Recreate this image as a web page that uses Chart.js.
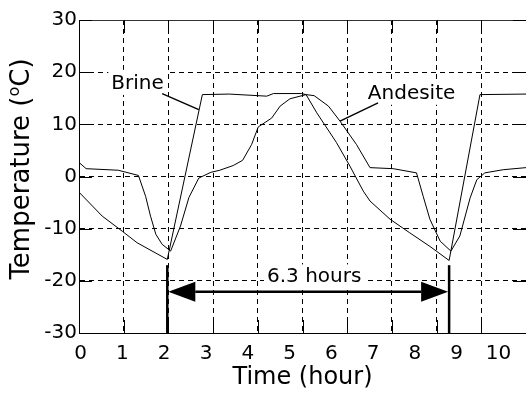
<!DOCTYPE html>
<html>
<head>
<meta charset="utf-8">
<script src="https://cdn.jsdelivr.net/npm/chart.js@4.4.1/dist/chart.umd.min.js"></script>
<style>
  html, body { margin: 0; padding: 0; background: #fff; }
  #wrap { width: 526px; height: 393px; }
</style>
</head>
<body>
<div id="wrap"><canvas id="chart"></canvas></div>
<script>
// data (time in hours, temperature in degC)
const brineHours = [0, 0.52, 0.97, 1.30, 1.975, 2.76, 3.36, 4.20, 4.35, 4.98, 5.08, 5.32, 5.76, 6.06, 6.36, 6.51, 6.96, 7.40, 7.85, 8.28, 8.97, 10.0];
const brineTemp  = [-3.0, -7.6, -10.5, -12.7, -15.9, 15.7, 15.8, 15.4, 15.9, 15.9, 15.7, 12.2, 6.5, 2.0, -2.8, -4.7, -8.2, -10.8, -13.4, -16.1, 15.7, 15.8];

const andesiteHours = [0, 0.16, 0.88, 1.33, 1.49, 1.60, 1.72, 1.86, 2.05, 2.27, 2.46, 2.68, 2.95, 3.15, 3.45, 3.66, 3.86, 4.01, 4.31, 4.50, 4.72, 5.08, 5.26, 5.58, 5.84, 6.21, 6.51, 7.03, 7.55, 7.70, 7.85, 8.08, 8.32, 8.52, 8.75, 8.90, 9.08, 9.49, 10.0];
const andesiteTemp  = [2.7, 1.5, 1.2, 0.2, -3.8, -7.6, -11.1, -13.0, -14.3, -9.5, -4.0, -0.3, 0.8, 1.2, 2.1, 3.1, 6.1, 9.5, 11.2, 13.5, 14.9, 15.7, 15.5, 13.5, 10.6, 6.1, 1.7, 1.5, 0.7, -3.8, -8.2, -12.4, -14.3, -11.4, -4.1, -0.6, 0.7, 1.3, 1.7];

const gridHours = [0, 1, 2, 3, 4, 5, 6, 7, 8, 9, 10];
const hourLabels = [0, 1, 2, 3, 4, 5, 6, 7, 8, 9, 10];
const tempTicks = [-30, -20, -10, 0, 10, 20, 30];

// annotations (data units)
const cycleStart = 1.975, cycleEnd = 8.28, arrowTemp = -22.1, markerTop = -17.0;
const cycleText = '6.3 hours';
const seriesNotes = [
  { text: 'Brine', x: 1.31, y: 16.8, from: [1.86, 15.9], to: [2.68, 12.8] },
  { text: 'Andesite', x: 7.44, y: 14.9, from: [6.69, 14.1], to: [5.84, 10.6] }
];

const FONT = '"DejaVu Sans", "Liberation Sans", Arial, sans-serif';

function toPoints(xs, ys) {
  return xs.map((v, i) => ({ x: v, y: ys[i] }));
}

function seg(ctx, x1, y1, x2, y2) {
  ctx.beginPath();
  ctx.moveTo(x1, y1);
  ctx.lineTo(x2, y2);
  ctx.stroke();
}

const figureDecor = {
  id: 'figureDecor',
  afterDatasetsDraw(chart) {
    const { ctx, chartArea: a, scales: { x, y } } = chart;
    ctx.save();
    ctx.setLineDash([]);
    ctx.strokeStyle = '#000';
    ctx.fillStyle = '#000';

    // top frame line
    ctx.lineWidth = 1;
    ctx.strokeStyle = '#333';
    seg(ctx, a.left, Math.round(a.top) + 0.5, a.right, Math.round(a.top) + 0.5);
    ctx.strokeStyle = '#000';

    // inward tick marks on all four sides
    gridHours.forEach(v => {
      const px = Math.round(x.getPixelForValue(v)) + 0.5;
      seg(ctx, px, a.bottom, px, a.bottom - 13);
      seg(ctx, px, a.top, px, a.top + 13);
    });
    tempTicks.forEach(v => {
      const py = Math.round(y.getPixelForValue(v)) + 0.5;
      seg(ctx, a.left, py, a.left + 13, py);
      seg(ctx, a.right - 13, py, a.right, py);
    });

    // series labels with pointer lines
    ctx.font = '20px ' + FONT;
    ctx.textAlign = 'center';
    ctx.textBaseline = 'alphabetic';
    seriesNotes.forEach(n => {
      const cx = x.getPixelForValue(n.x), by = y.getPixelForValue(n.y);
      const w = ctx.measureText(n.text).width;
      ctx.fillStyle = '#fff';
      ctx.fillRect(cx - w / 2 - 3, by - 19, w + 6, 25);
      ctx.fillStyle = '#000';
      ctx.fillText(n.text, cx, by);
      ctx.lineWidth = 1.4;
      seg(ctx, x.getPixelForValue(n.from[0]), y.getPixelForValue(n.from[1]),
               x.getPixelForValue(n.to[0]), y.getPixelForValue(n.to[1]));
    });

    // cycle period markers and double arrow
    const x1 = x.getPixelForValue(cycleStart), x2 = x.getPixelForValue(cycleEnd);
    const ay = y.getPixelForValue(arrowTemp);
    ctx.lineWidth = 2.5;
    [x1, x2].forEach(px => seg(ctx, px, y.getPixelForValue(markerTop), px, a.bottom));
    const head = 28, half = 10;
    seg(ctx, x1 + head, ay, x2 - head, ay);
    ctx.beginPath();
    ctx.moveTo(x1 + 1, ay); ctx.lineTo(x1 + head, ay - half); ctx.lineTo(x1 + head, ay + half); ctx.closePath();
    ctx.fill();
    ctx.beginPath();
    ctx.moveTo(x2 - 1, ay); ctx.lineTo(x2 - head, ay - half); ctx.lineTo(x2 - head, ay + half); ctx.closePath();
    ctx.fill();

    const tx = (x1 + x2) / 2 + 6, ty = y.getPixelForValue(-20.3);
    const tw = ctx.measureText(cycleText).width;
    ctx.fillStyle = '#fff';
    ctx.fillRect(tx - tw / 2 - 3, ty - 18, tw + 6, 22);
    ctx.fillStyle = '#000';
    ctx.fillText(cycleText, tx, ty);
    ctx.restore();
  },
  afterDraw(chart) {
    // y axis title with superscript "o"
    const { ctx } = chart;
    const size = 26, supSize = 16;
    ctx.save();
    ctx.translate(29, 169);
    ctx.rotate(-Math.PI / 2);
    ctx.fillStyle = '#000';
    ctx.textBaseline = 'alphabetic';
    ctx.textAlign = 'left';
    const main = 'Temperature (', tail = 'C)';
    ctx.font = size + 'px ' + FONT;
    const w1 = ctx.measureText(main).width, w3 = ctx.measureText(tail).width;
    ctx.font = supSize + 'px ' + FONT;
    const w2 = ctx.measureText('o').width;
    let cx = -(w1 + w2 + w3) / 2;
    ctx.font = size + 'px ' + FONT;
    ctx.fillText(main, cx, 0);
    cx += w1;
    ctx.font = supSize + 'px ' + FONT;
    ctx.fillText('o', cx, -10);
    cx += w2;
    ctx.font = size + 'px ' + FONT;
    ctx.fillText(tail, cx, 0);
    ctx.restore();
  }
};

new Chart(document.getElementById('chart'), {
  type: 'line',
  data: {
    datasets: [
      { label: 'Brine', data: toPoints(brineHours, brineTemp), xAxisID: 'x', yAxisID: 'y' },
      { label: 'Andesite', data: toPoints(andesiteHours, andesiteTemp), xAxisID: 'x', yAxisID: 'y' }
    ]
  },
  options: {
    responsive: true,
    maintainAspectRatio: false,
    animation: false,
    layout: { autoPadding: false, padding: { top: 20, right: 0, bottom: 0, left: 0 } },
    elements: {
      line: { borderColor: '#000', borderWidth: 1, tension: 0, fill: false },
      point: { radius: 0, hoverRadius: 0 }
    },
    plugins: { legend: { display: false }, tooltip: { enabled: false } },
    scales: {
      x: {
        type: 'linear', position: 'top', min: 0, max: 10,
        afterBuildTicks: s => { s.ticks = gridHours.map(v => ({ value: v })); },
        afterFit: s => { s.height = 0; },
        ticks: { display: false },
        grid: { color: '#000', lineWidth: 1, drawTicks: false },
        border: { display: false, dash: [5, 4] }
      },
      xLabel: {
        type: 'linear', position: 'bottom', min: -0.04, max: 10.66,
        afterBuildTicks: s => { s.ticks = hourLabels.map(v => ({ value: v })); },
        afterFit: s => { s.height = 60; },
        ticks: { color: '#000', font: { family: FONT, size: 20 }, padding: 9, maxRotation: 0, autoSkip: false },
        grid: { display: false, drawTicks: false },
        border: { display: true, color: '#000', width: 1 },
        title: { display: true, text: 'Time (hour)', color: '#000', font: { family: FONT, size: 24 }, padding: { top: 0, bottom: 1 } }
      },
      y: {
        type: 'linear', position: 'left', min: -30, max: 30,
        afterBuildTicks: s => { s.ticks = tempTicks.map(v => ({ value: v })); },
        afterFit: s => { s.width = 79; },
        ticks: { color: '#000', font: { family: FONT, size: 20 }, padding: 2 },
        grid: { color: '#000', lineWidth: 1, drawTicks: false },
        border: { display: true, color: '#000', width: 1, dash: [5, 4] }
      }
    }
  },
  plugins: [figureDecor]
});
</script>
</body>
</html>
